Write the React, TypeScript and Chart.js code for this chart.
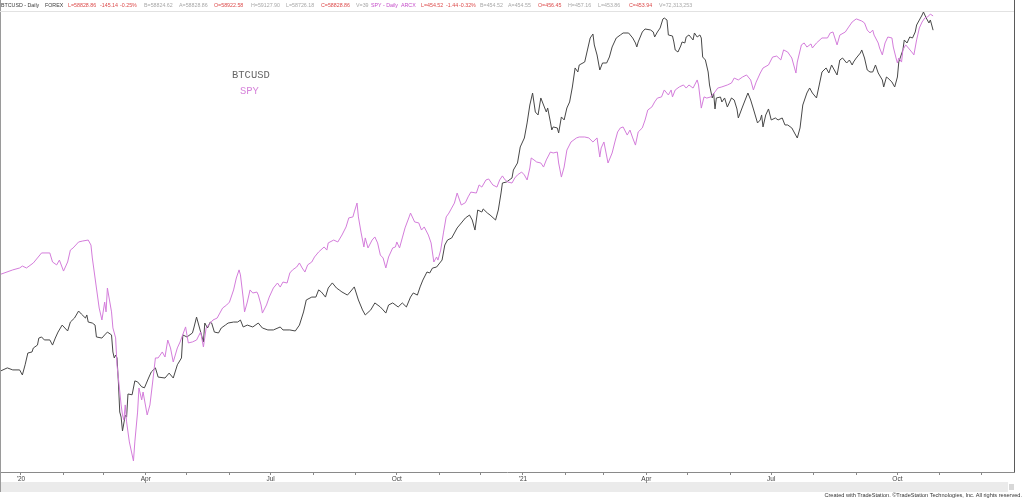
import React, { useEffect, useRef } from "react";
import { Chart, registerables } from "chart.js";

Chart.register(...registerables);

// Day offsets are days since 2020-01-01
const BTC_DAYS = [
  -15, -10, -6, -1, 1, 3, 5, 8, 9, 12, 13, 15, 17, 21, 23, 25, 27, 30, 32, 34, 36, 39, 42, 44, 47, 48, 49, 52, 54, 55,
  59, 61, 63, 66, 67, 68, 69, 70, 71, 72, 73, 74, 76, 77, 78, 81, 83, 85, 88, 90, 93, 95, 98, 100, 105, 108, 111, 114,
  117, 118, 121, 125, 126, 128, 131, 133, 134, 136, 138, 139, 141, 144, 146, 149, 151, 155, 158, 160, 162, 165, 169,
  173, 176, 180, 184, 189, 191, 196, 200, 203, 206, 208, 212, 215, 217, 219, 222, 224, 227, 230, 232, 234, 238, 240,
  243, 246, 249, 251, 255, 258, 262, 264, 266, 268, 271, 275, 278, 281, 284, 286, 289, 291, 293, 296, 298, 300, 303,
  307, 309, 311, 314, 316, 318, 321, 324, 327, 329, 331, 333, 336, 337, 340, 342, 346, 348, 350, 351, 354, 358, 359,
  362, 364, 367, 369, 371, 373, 375, 377, 379, 381, 383, 384, 386, 387, 388, 391, 392, 394, 396, 398, 400, 402, 404,
  406, 407, 411, 413, 415, 417, 418, 420, 422, 424, 427, 429, 431, 434, 437, 439, 443, 446, 448, 449, 450, 453, 455,
  459, 461, 462, 464, 466, 468, 469, 471, 472, 475, 476, 477, 479, 481, 482, 484, 485, 487, 490, 491, 493, 495, 496,
  497, 499, 501, 502, 504, 505, 506, 507, 510, 511, 513, 515, 518, 520, 522, 523, 526, 528, 530, 532, 534, 537, 539,
  540, 541, 543, 545, 547, 550, 552, 555, 557, 559, 562, 564, 566, 568, 570, 573, 575, 577, 580, 582, 584, 587, 589,
  591, 593, 595, 597, 599, 602, 604, 606, 607, 609, 612, 613, 615, 617, 619, 621, 623, 625, 628, 629, 631, 632, 635,
  637, 639, 640, 643, 644, 646, 648, 650, 652, 653, 655, 657, 658, 660, 662, 663, 664, 665,
];
const BTC_CLOSE = [
  7080, 7220, 7130, 7130, 6910, 7360, 7920, 7970, 8170, 8320, 8690, 8750, 8590, 8590, 8320, 8690, 9020, 9420, 9250,
  9080, 9600, 9840, 10280, 10090, 9840, 10030, 9600, 9540, 9420, 8750, 8690, 8860, 9020, 8860, 7970, 7680, 7820, 7680,
  6620, 5490, 5320, 4880, 5380, 5320, 6140, 6110, 6660, 6620, 6420, 6380, 6780, 7040, 7220, 6820, 6780, 6990, 6780,
  7360, 7680, 8860, 8750, 8970, 9250, 9900, 9020, 8480, 9540, 9250, 9600, 9540, 9020, 8970, 9250, 9420, 9540, 9600,
  9600, 9720, 9310, 9420, 9310, 9540, 9250, 9140, 9140, 9310, 9140, 9140, 9080, 9420, 10220, 11010, 11210, 11210,
  11720, 11570, 11210, 11860, 12240, 11860, 11720, 11570, 11350, 11570, 11940, 11010, 10350, 10030, 10350, 10810,
  10540, 10350, 10150, 10670, 10810, 10540, 10810, 10540, 11210, 11500, 11350, 11940, 12460, 13100, 13020, 13420,
  13510, 14110, 15490, 15980, 16180, 16690, 17220, 17760, 18320, 18660, 18090, 17000, 19250, 19010, 19380, 18900,
  18660, 18090, 19250, 21400, 22770, 22910, 23490, 24680, 25780, 28480, 30110, 33060, 36960, 39820, 35390, 34740,
  38610, 36960, 35390, 36280, 33260, 31650, 32250, 32050, 31060, 34310, 33680, 36280, 37660, 41330, 46520, 45370,
  47390, 48280, 52020, 56040, 57450, 53660, 50420, 45940, 47980, 47980, 49800, 53000, 56040, 57100, 57810, 57810,
  56040, 54330, 53000, 54670, 58170, 59270, 58900, 58170, 56390, 58170, 59630, 63060, 63450, 62670, 57100, 56740,
  54670, 52020, 51370, 53330, 54670, 54330, 56390, 57100, 55350, 57810, 56390, 57100, 56040, 49800, 48880, 45370,
  41850, 38610, 39820, 36060, 38610, 38840, 37660, 38610, 36500, 38610, 38130, 36060, 34100, 36500, 38130, 39820,
  38130, 36060, 33060, 33680, 34740, 32250, 34740, 36060, 33680, 34100, 33680, 34100, 32650, 32650, 32050, 31060,
  30110, 32050, 36960, 39820, 41080, 39820, 38610, 41850, 45370, 46520, 45090, 47390, 45940, 44530, 48880, 49490,
  47980, 48880, 47390, 48280, 49490, 51050, 52020, 49490, 45940, 45370, 45370, 47390, 45090, 43170, 41330, 43980,
  43710, 42630, 41330, 43980, 48280, 52020, 55350, 54330, 56390, 56040, 58170, 60750, 62670, 64650, 65860, 63450,
  61510, 62670, 60750, 58830,
];

const SPY_DAYS = [
  -15, -6, -1, 1, 4, 9, 15, 21, 23, 26, 28, 31, 34, 36, 38, 42, 45, 49, 51, 52, 55, 57, 59, 61, 62, 63, 66, 67, 69, 70,
  71, 73, 74, 75, 76, 77, 79, 82, 83, 85, 86, 88, 89, 92, 94, 96, 98, 100, 103, 105, 107, 109, 111, 114, 116, 120, 122,
  125, 128, 131, 133, 135, 138, 140, 143, 145, 147, 150, 152, 155, 157, 159, 160, 162, 163, 165, 167, 169, 172, 173,
  175, 176, 179, 181, 184, 187, 189, 191, 194, 196, 198, 201, 203, 205, 207, 209, 212, 214, 217, 221, 223, 224, 228,
  231, 234, 237, 239, 242, 243, 245, 246, 248, 250, 251, 253, 256, 258, 260, 262, 264, 266, 268, 271, 273, 274, 276,
  278, 280, 283, 284, 287, 290, 292, 294, 297, 299, 301, 303, 304, 306, 308, 310, 312, 314, 316, 318, 321, 324, 326,
  328, 332, 334, 336, 339, 341, 344, 347, 349, 351, 353, 355, 358, 360, 362, 365, 367, 369, 371, 372, 374, 376, 379,
  381, 383, 386, 388, 391, 392, 394, 396, 398, 401, 405, 407, 411, 414, 417, 420, 422, 423, 425, 428, 431, 433, 435,
  437, 439, 442, 444, 446, 448, 450, 453, 455, 457, 460, 462, 464, 467, 469, 472, 474, 475, 477, 480, 483, 485, 487,
  490, 493, 494, 496, 498, 500, 503, 506, 508, 511, 515, 518, 520, 523, 526, 529, 532, 534, 536, 539, 541, 545, 548,
  551, 554, 556, 559, 562, 564, 565, 566, 569, 571, 573, 576, 577, 580, 584, 588, 590, 592, 595, 597, 601, 603, 606,
  609, 613, 615, 617, 619, 621, 622, 625, 626, 628, 630, 632, 635, 636, 638, 639, 640, 642, 643, 645, 647, 650, 651,
  653, 655, 657, 659, 661, 663, 665,
];
const SPY_CLOSE = [
  319.8, 322.1, 323.1, 324.1, 323.1, 325.7, 330.9, 330.9, 326.2, 324.7, 327.2, 321.5, 326.2, 332.4, 333.5, 336.6, 337.1,
  337.6, 335.0, 328.3, 312.7, 302.3, 296.1, 305.4, 300.3, 312.7, 300.3, 292.0, 286.8, 272.7, 266.0, 252.0, 246.8, 244.2,
  252.0, 243.2, 232.8, 222.9, 232.8, 248.3, 260.8, 254.6, 258.7, 246.8, 252.0, 263.9, 276.4, 276.4, 279.5, 276.9, 285.7,
  281.6, 274.3, 281.6, 284.7, 292.5, 284.2, 284.7, 285.7, 289.9, 282.1, 292.0, 294.5, 296.1, 297.1, 299.7, 302.3, 303.9,
  305.4, 311.7, 317.9, 322.1, 319.5, 307.5, 300.3, 305.4, 311.7, 310.1, 310.6, 309.1, 303.9, 299.7, 303.9, 308.0, 312.7,
  315.3, 313.2, 315.8, 315.3, 320.5, 322.1, 323.6, 325.7, 323.1, 321.0, 324.7, 326.2, 328.8, 331.4, 334.0, 332.4, 336.1,
  337.6, 336.6, 340.2, 344.4, 349.1, 349.6, 352.2, 356.8, 349.6, 341.3, 334.0, 338.7, 333.5, 337.6, 339.2, 336.1, 329.8,
  328.3, 323.1, 328.8, 333.5, 334.0, 336.6, 333.5, 338.7, 343.9, 349.6, 351.6, 347.0, 346.5, 342.8, 344.4, 340.2, 336.1,
  326.2, 328.8, 327.2, 332.4, 341.3, 349.6, 351.6, 354.2, 356.8, 362.0, 355.8, 357.0, 360.0, 362.5, 362.0, 366.2, 365.1,
  368.8, 369.3, 366.2, 365.1, 368.8, 370.9, 368.8, 367.7, 367.2, 369.8, 371.4, 372.9, 371.4, 368.8, 375.0, 380.2, 379.2,
  378.1, 377.6, 375.5, 379.2, 383.3, 382.8, 383.3, 377.6, 370.3, 375.5, 384.3, 388.5, 390.6, 391.1, 391.1, 390.6, 388.5,
  390.6, 380.7, 385.4, 388.5, 377.6, 382.8, 388.5, 393.7, 395.8, 396.3, 392.1, 394.7, 390.6, 386.9, 393.7, 395.8, 399.9,
  405.1, 406.7, 409.3, 411.3, 411.9, 415.5, 412.9, 415.5, 411.9, 415.5, 417.1, 418.1, 416.5, 418.1, 416.5, 420.7, 418.1,
  406.1, 411.9, 411.3, 411.9, 414.5, 416.5, 417.1, 418.1, 419.1, 421.7, 420.7, 422.2, 423.3, 420.7, 415.5, 419.6, 424.3,
  426.9, 428.5, 432.6, 433.1, 431.1, 436.3, 435.2, 432.1, 426.9, 424.3, 430.0, 438.9, 439.9, 437.8, 439.4, 437.3, 439.9,
  442.5, 442.5, 445.1, 445.6, 438.9, 444.0, 445.6, 447.7, 450.8, 452.4, 451.3, 450.3, 446.6, 445.1, 446.6, 444.0, 439.9,
  437.3, 433.7, 439.9, 443.0, 442.5, 437.8, 432.1, 429.5, 432.1, 430.0, 436.3, 438.9, 437.3, 434.7, 433.7, 441.5, 447.7,
  450.8, 452.9, 453.4, 454.9, 453.94,
];

const MONTH_START_DAYS = [
  0, 31, 60, 91, 121, 152, 182, 213, 244, 274, 305, 335, 366, 397, 425, 456, 486, 517, 547, 578, 609, 639, 670, 700,
];
const MONTH_LABELS = [
  "'20", "", "", "Apr", "", "", "Jul", "", "", "Oct", "", "",
  "'21", "", "", "Apr", "", "", "Jul", "", "", "Oct", "", "",
];

const X_MIN_DAY = -15.31;
const X_MAX_DAY = 724.0;
const BTC_AXIS_MIN = 3782;
const BTC_AXIS_MAX = 66270;
const SPY_AXIS_MIN = 217.19;
const SPY_AXIS_MAX = 456.5;

const DARK = "#3a3a3a";
const RED = "#dc4a4a";
const GRAY = "#a8a8a8";
const MAG = "#c44cc8";

const HEADER = [
  { t: "BTCUSD - Daily", c: DARK, x: 0 },
  { t: "FOREX", c: DARK, x: 44 },
  { t: "L=58828.86", c: RED, x: 67 },
  { t: "-145.14", c: RED, x: 99 },
  { t: "-0.25%", c: RED, x: 119 },
  { t: "B=58824.62", c: GRAY, x: 143 },
  { t: "A=58828.86", c: GRAY, x: 178 },
  { t: "O=58922.58", c: RED, x: 213 },
  { t: "H=59127.90", c: GRAY, x: 250 },
  { t: "L=58726.18", c: GRAY, x: 285 },
  { t: "C=58828.86", c: RED, x: 320 },
  { t: "V=39", c: GRAY, x: 355 },
  { t: "SPY - Daily", c: MAG, x: 370 },
  { t: "ARCX", c: MAG, x: 400 },
  { t: "L=454.52", c: RED, x: 420 },
  { t: "-1.44", c: RED, x: 445 },
  { t: "-0.32%", c: RED, x: 458 },
  { t: "B=454.52", c: GRAY, x: 479 },
  { t: "A=454.55", c: GRAY, x: 507 },
  { t: "O=456.45", c: RED, x: 537 },
  { t: "H=457.16", c: GRAY, x: 567 },
  { t: "L=453.86", c: GRAY, x: 597 },
  { t: "C=453.94", c: RED, x: 628 },
  { t: "V=72,313,253", c: GRAY, x: 658 },
];

const decorPlugin = {
  id: "decor",
  beforeDraw(chart: any) {
    const ctx = chart.ctx;
    ctx.save();
    ctx.fillStyle = "#ffffff";
    ctx.fillRect(0, 0, chart.width, chart.height);
    ctx.fillStyle = "#ebebeb";
    ctx.fillRect(1, 482, 1007, 10);
    ctx.fillStyle = "#d8d8d8";
    ctx.fillRect(1009, 484, 5, 6);
    ctx.restore();
  },
  afterDraw(chart: any) {
    const { ctx, chartArea: a } = chart;
    ctx.save();
    ctx.lineWidth = 1;
    ctx.strokeStyle = "#5a5a5a";
    ctx.beginPath();
    ctx.moveTo(a.right + 0.5, 0);
    ctx.lineTo(a.right + 0.5, a.bottom);
    ctx.stroke();
    ctx.strokeStyle = "#9a9a9a";
    ctx.beginPath();
    ctx.moveTo(0.5, 0);
    ctx.lineTo(0.5, 492);
    ctx.stroke();
    ctx.strokeStyle = "#e2e2e2";
    ctx.beginPath();
    ctx.moveTo(0, 11.5);
    ctx.lineTo(a.right, 11.5);
    ctx.stroke();
    ctx.restore();
  },
};

export default function App() {
  const canvasRef = useRef<HTMLCanvasElement | null>(null);

  useEffect(() => {
    const canvas = canvasRef.current;
    if (!canvas) return;
    const chart = new Chart(canvas, {
      type: "line",
      data: {
        datasets: [
          {
            label: "SPY",
            data: SPY_DAYS.map((d, i) => ({ x: d, y: SPY_CLOSE[i] })),
            yAxisID: "ySpy",
            borderColor: "#d47ddb",
            borderWidth: 1,
            pointRadius: 0,
            tension: 0,
          },
          {
            label: "BTCUSD",
            data: BTC_DAYS.map((d, i) => ({ x: d, y: BTC_CLOSE[i] })),
            yAxisID: "yBtc",
            borderColor: "#484848",
            borderWidth: 1,
            pointRadius: 0,
            tension: 0,
          },
        ],
      },
      options: {
        animation: false,
        responsive: false,
        maintainAspectRatio: false,
        layout: { padding: { top: 11, left: 0, right: 10, bottom: 0 } },
        plugins: { legend: { display: false }, tooltip: { enabled: false } },
        scales: {
          x: {
            type: "linear",
            min: X_MIN_DAY,
            max: X_MAX_DAY,
            afterBuildTicks: (scale: any) => {
              scale.ticks = MONTH_START_DAYS.map((v) => ({ value: v }));
            },
            afterFit: (scale: any) => {
              scale.height = 27;
            },
            ticks: {
              autoSkip: false,
              maxRotation: 0,
              padding: 0,
              color: "#444",
              font: { size: 6.5, family: "'Liberation Sans', Arial, sans-serif" },
              callback: (value: any) => {
                const i = MONTH_START_DAYS.indexOf(Number(value));
                return i >= 0 ? MONTH_LABELS[i] : "";
              },
            },
            grid: { drawOnChartArea: false, drawTicks: true, tickLength: 3, color: "#888" },
            border: { color: "#8a8a8a", width: 1 },
          },
          yBtc: { type: "logarithmic", display: false, min: BTC_AXIS_MIN, max: BTC_AXIS_MAX },
          ySpy: { type: "linear", display: false, min: SPY_AXIS_MIN, max: SPY_AXIS_MAX },
        },
      },
      plugins: [decorPlugin],
    } as any);
    return () => chart.destroy();
  }, []);

  const headFont = "'Liberation Sans', Arial, sans-serif";
  return (
    <div style={{ position: "absolute", left: 0, top: 0, width: 1024, height: 499, overflow: "hidden", background: "#fff" }}>
      <canvas ref={canvasRef} width={1024} height={499} style={{ position: "absolute", left: 0, top: 0, width: 1024, height: 499 }} />
      {HEADER.map((h, i) => (
        <span
          key={i}
          style={{
            position: "absolute",
            left: h.x + 1,
            top: 1,
            fontFamily: headFont,
            fontSize: 5.3,
            lineHeight: "8px",
            color: h.c,
            whiteSpace: "nowrap",
          }}
        >
          {h.t}
        </span>
      ))}
      <div style={{ position: "absolute", left: 232, top: 69, fontFamily: "'Liberation Mono', 'Courier New', monospace", fontSize: 10.5, lineHeight: "12px", color: "#666" }}>
        BTCUSD
      </div>
      <div style={{ position: "absolute", left: 240, top: 85, fontFamily: "'Liberation Mono', 'Courier New', monospace", fontSize: 10.5, lineHeight: "12px", color: "#d785db" }}>
        SPY
      </div>
      <div style={{ position: "absolute", right: 2, top: 492, fontFamily: headFont, fontSize: 5.6, lineHeight: "7px", color: "#333", whiteSpace: "nowrap" }}>
        Created with TradeStation. ©TradeStation Technologies, Inc. All rights reserved.
      </div>
    </div>
  );
}
